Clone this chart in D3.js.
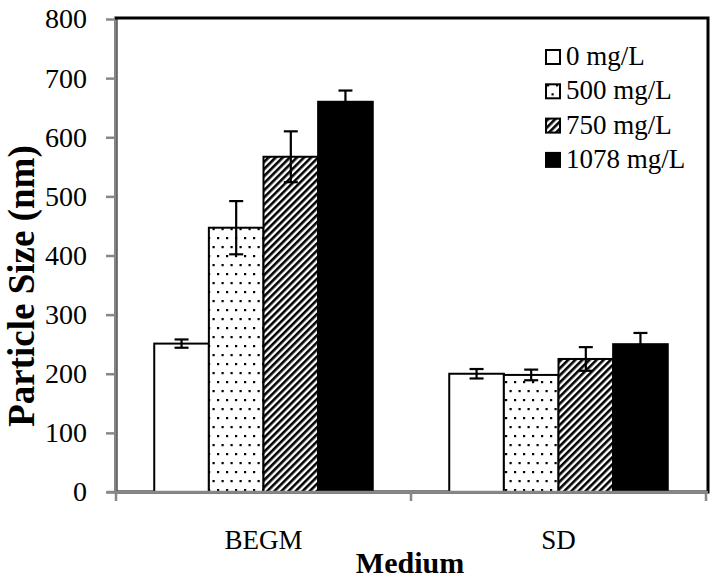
<!DOCTYPE html>
<html lang="en">
<head>
    <meta charset="UTF-8">
    <title>Particle Size by Medium</title>
    <script src="https://d3js.org/d3.v7.min.js"></script>
    <style>
        body { margin: 0; background: white; }
        svg text { font-family: "Liberation Serif", "DejaVu Serif", "Noto Serif", serif !important; fill: black; }
        .axis-title { font-weight: bold; }
        .y-axis path, .y-axis line { stroke: #878787; stroke-width: 2.5; }
    </style>
</head>
<body>
    <svg width="714" height="582" font-family="Liberation Serif"></svg>
    <script>
        // data
        var categories = ["BEGM", "SD"];
        var series = ["0 mg/L", "500 mg/L", "750 mg/L", "1078 mg/L"];
        var begmValues = [251, 447, 567, 660];
        var begmErrors = [7, 45, 43, 19];
        var sdValues = [200, 198, 225, 250];
        var sdErrors = [8, 9, 20, 19];
        var yTicks = [0, 100, 200, 300, 400, 500, 600, 700, 800];

        var svg = d3.select("svg");
        var plotLeft = 116, plotRight = 706, plotTop = 18, plotBottom = 492;

        var x_ = d3.scaleBand().domain(categories).range([plotLeft, plotRight]);
        var xs = d3.scaleBand().domain(series).range([0, x_.bandwidth()]).paddingOuter(0.7);
        var y_ = d3.scaleLinear().domain([0, 800]).range([plotBottom, plotTop + 1]);

        var defs = svg.append("defs");
        var dots = defs.append("pattern")
            .attr("id", "dots").attr("patternUnits", "userSpaceOnUse")
            .attr("width", 9).attr("height", 18);
        dots.append("rect").attr("width", 9).attr("height", 18).attr("fill", "white");
        dots.append("rect").attr("x", 1).attr("y", 3).attr("width", 2.2).attr("height", 2.2).attr("fill", "black");
        dots.append("rect").attr("x", 5.5).attr("y", 12).attr("width", 2.2).attr("height", 2.2).attr("fill", "black");

        var hatch = defs.append("pattern")
            .attr("id", "hatch").attr("patternUnits", "userSpaceOnUse")
            .attr("width", 5).attr("height", 5)
            .attr("patternTransform", "rotate(45)");
        hatch.append("rect").attr("width", 5).attr("height", 5).attr("fill", "white");
        hatch.append("rect").attr("width", 2.6).attr("height", 5).attr("fill", "black");

        var fills = ["white", "url(#dots)", "url(#hatch)", "black"];

        // frame
        svg.append("rect")
            .attr("x", plotLeft).attr("y", plotTop)
            .attr("width", plotRight - plotLeft + 2).attr("height", plotBottom - plotTop)
            .attr("fill", "none").attr("stroke", "black").attr("stroke-width", 3);

        var rows = categories.map(function(c, i) {
            var vals = i === 0 ? begmValues : sdValues;
            var errs = i === 0 ? begmErrors : sdErrors;
            return series.map(function(s, j) {
                return { cat: c, s: s, j: j, v: vals[j], e: errs[j] };
            });
        });
        var flat = rows[0].concat(rows[1]);

        svg.selectAll(".bar")
            .data(flat)
            .enter().append("rect")
            .attr("class", "bar")
            .attr("x", function(d) { return x_(d.cat) + xs(d.s); })
            .attr("y", function(d) { return y_(d.v); })
            .attr("width", xs.bandwidth())
            .attr("height", function(d) { return plotBottom - y_(d.v); })
            .attr("fill", function(d) { return fills[d.j]; })
            .attr("stroke", "black")
            .attr("stroke-width", 2);

        // error bars
        var eb = svg.selectAll(".err").data(flat).enter().append("g").attr("class", "err")
            .attr("stroke", "black").attr("stroke-width", 2.2);
        eb.append("line")
            .attr("x1", function(d) { return x_(d.cat) + xs(d.s) + xs.bandwidth() / 2; })
            .attr("x2", function(d) { return x_(d.cat) + xs(d.s) + xs.bandwidth() / 2; })
            .attr("y1", function(d) { return y_(d.v + d.e); })
            .attr("y2", function(d) { return y_(d.v - d.e); });
        [1, -1].forEach(function(sign) {
            eb.append("line")
                .attr("x1", function(d) { return x_(d.cat) + xs(d.s) + xs.bandwidth() / 2 - 7; })
                .attr("x2", function(d) { return x_(d.cat) + xs(d.s) + xs.bandwidth() / 2 + 7; })
                .attr("y1", function(d) { return y_(d.v + sign * d.e); })
                .attr("y2", function(d) { return y_(d.v + sign * d.e); });
        });

        // y axis
        svg.append("g")
            .attr("class", "y-axis")
            .attr("transform", "translate(" + (plotLeft - 1) + ",0)")
            .call(d3.axisLeft(y_).tickValues(yTicks).tickSize(9).tickSizeOuter(0).tickPadding(19))
            .call(function(g) {
                g.attr("font-family", null);
                g.selectAll("text").attr("font-size", "28px");
            });

        // x axis line with ticks at category boundaries
        svg.append("line")
            .attr("x1", plotLeft - 9).attr("x2", plotRight + 2)
            .attr("y1", plotBottom).attr("y2", plotBottom)
            .attr("stroke", "#878787").attr("stroke-width", 2.5);
        var bounds = categories.map(function(c) { return x_(c); }).concat([x_(categories[1]) + x_.bandwidth()]);
        svg.selectAll(".xtick").data(bounds).enter().append("line")
            .attr("x1", function(d) { return d; }).attr("x2", function(d) { return d; })
            .attr("y1", plotBottom).attr("y2", plotBottom + 9)
            .attr("stroke", "#878787").attr("stroke-width", 2.5);
        svg.selectAll(".xlabel").data(categories).enter().append("text")
            .attr("x", function(d) { return x_(d) + x_.bandwidth() / 2; })
            .attr("y", 549)
            .attr("text-anchor", "middle")
            .attr("font-size", "27px")
            .text(function(d) { return d; });

        // axis titles
        svg.append("text")
            .attr("class", "axis-title")
            .attr("x", 410).attr("y", 573)
            .attr("text-anchor", "middle")
            .attr("font-size", "30px")
            .text("Medium");
        svg.append("text")
            .attr("class", "axis-title")
            .attr("transform", "translate(34,286) rotate(-90)")
            .attr("text-anchor", "middle")
            .attr("font-size", "37px")
            .text("Particle Size (nm)");

        // legend
        var legend = svg.append("g").attr("transform", "translate(546, 65)");
        var items = legend.selectAll("g").data(series).enter().append("g")
            .attr("transform", function(d, i) { return "translate(0," + (i * 34.3) + ")"; });
        items.append("rect")
            .attr("x", 0).attr("y", -15)
            .attr("width", 14).attr("height", 14)
            .attr("fill", function(d, i) { return fills[i]; })
            .attr("stroke", "black").attr("stroke-width", 2);
        items.append("text")
            .attr("x", 20).attr("y", 0)
            .attr("font-size", "27px")
            .text(function(d) { return d; });
    </script>
</body>
</html>
